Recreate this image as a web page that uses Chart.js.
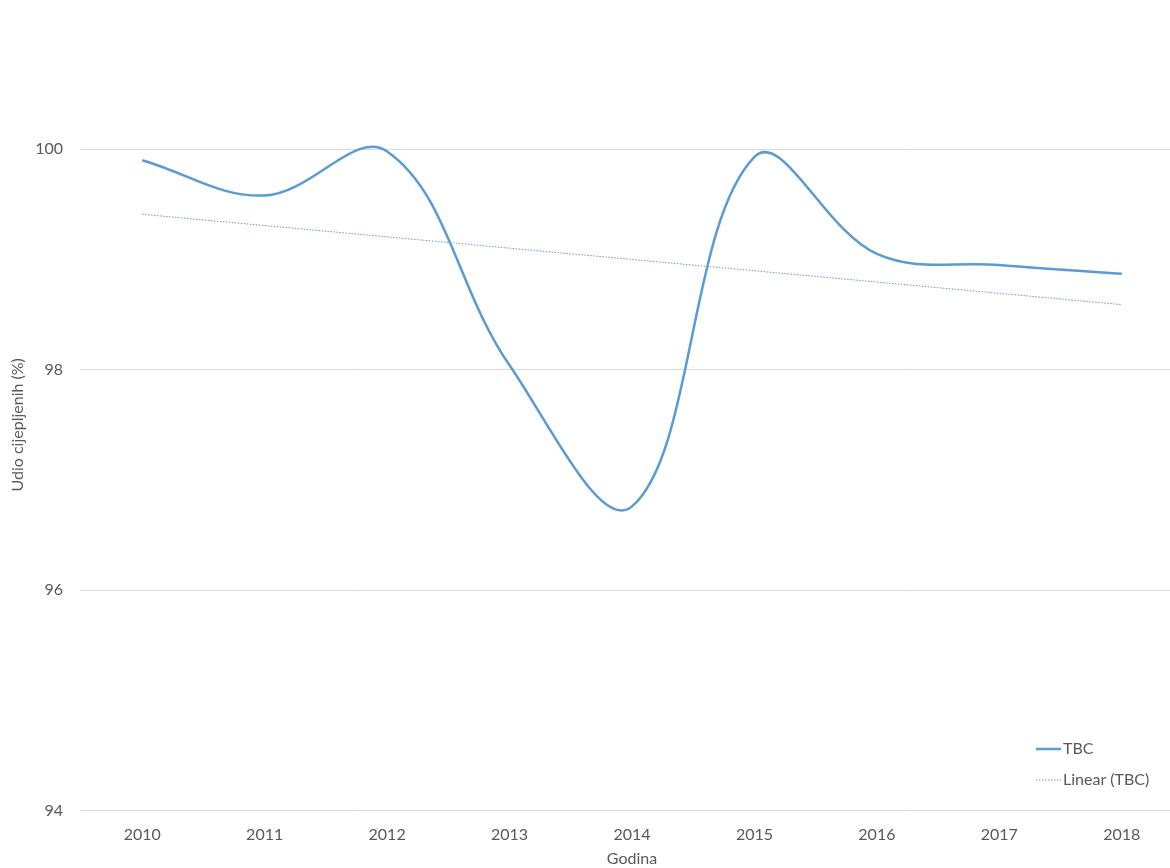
<!DOCTYPE html>
<html>
<head>
<meta charset="utf-8">
<script src="https://cdn.jsdelivr.net/npm/chart.js@4.4.0/dist/chart.umd.min.js"></script>
<style>
  html, body { margin: 0; padding: 0; background: #fff; overflow: hidden; }
  #wrap { width: 1185px; height: 868px; }
</style>
</head>
<body>
<div id="wrap"><canvas id="graf_tbc"></canvas></div>
<script>
/*------------------------------*/
/*     UDIO CIJEPLJENIH TBC     */
/*------------------------------*/
var godine = ['2010', '2011', '2012', '2013', '2014', '2015', '2016', '2017', '2018']
var tbc = [99.9, 99.58, 99.98, 98.04, 96.76, 99.93, 99.05, 98.95, 98.87]
// trend line read at first and last year
var trend = [99.41, null, null, null, null, null, null, null, 98.59]

var plava = '#5B9BD5'
var siva = '#595959'

// legend drawn inside the plot, bottom right
var legendaTbc = {
  id: 'legendaTbc',
  afterDraw: function (chart) {
    var c = chart.ctx
    c.save()
    c.font = '16px Lato'
    c.fillStyle = siva
    c.textBaseline = 'middle'
    c.strokeStyle = plava
    c.lineWidth = 2.5
    c.beginPath()
    c.moveTo(1036, 749)
    c.lineTo(1061, 749)
    c.stroke()
    c.fillText('TBC', 1063, 749)
    c.lineWidth = 1
    c.setLineDash([1.5, 1.5])
    c.beginPath()
    c.moveTo(1036, 780)
    c.lineTo(1061, 780)
    c.stroke()
    c.setLineDash([])
    c.fillText('Linear (TBC)', 1063, 780)
    c.restore()
  }
}

var ctx_tbc = document.getElementById('graf_tbc').getContext('2d')

var config_tbc = {
  type: 'line',
  data: {
    labels: godine,
    datasets: [
      {
        label: 'TBC',
        data: tbc,
        borderColor: plava,
        backgroundColor: plava,
        borderWidth: 2.5,
        pointRadius: 0,
        tension: 0.38,
        fill: false
      },
      {
        label: 'Linear (TBC)',
        data: trend,
        borderColor: plava,
        borderWidth: 1,
        borderDash: [1.5, 1.5],
        pointRadius: 0,
        spanGaps: true,
        tension: 0,
        fill: false
      }
    ]
  },
  options: {
    responsive: true,
    maintainAspectRatio: false,
    animation: false,
    layout: { padding: { top: 39, left: 8, right: 2, bottom: 0 } },
    plugins: {
      legend: { display: false },
      tooltip: { enabled: false }
    },
    scales: {
      x: {
        offset: true,
        grid: { display: false },
        border: { display: false },
        ticks: { color: siva, font: { family: 'Lato', size: 16 }, padding: 7 },
        title: { display: true, text: 'Godina', color: siva, font: { family: 'Lato', size: 16 }, padding: { top: -3, bottom: 0 } }
      },
      y: {
        min: 94,
        max: 101,
        afterBuildTicks: function (scale) {
          scale.ticks = scale.ticks.filter(function (t) { return t.value % 2 === 0 })
        },
        afterFit: function (scale) { scale.width = 73 },
        grid: { color: '#D9D9D9', lineWidth: 1, drawTicks: false },
        border: { display: false },
        ticks: { stepSize: 2, color: siva, font: { family: 'Lato', size: 16 }, padding: 18 },
        title: { display: true, text: 'Udio cijepljenih (%)', color: siva, font: { family: 'Lato', size: 16 }, padding: { top: 0, bottom: 0 } }
      }
    }
  },
  plugins: [legendaTbc]
}
var graf_tbc = new Chart(ctx_tbc, config_tbc)
</script>
</body>
</html>
